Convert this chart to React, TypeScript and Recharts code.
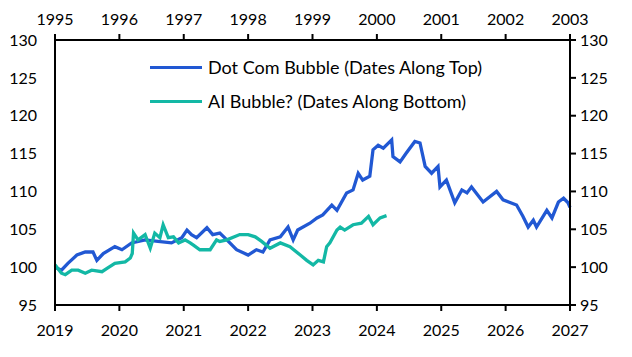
import { LineChart, Line, XAxis, YAxis, Legend } from 'recharts';

// Dot com bubble: dates along the top axis (1995-2003)
const dotComYears = [
  1995.0, 1995.1, 1995.2, 1995.34, 1995.47, 1995.59, 1995.65, 1995.75, 1995.93,
  1996.04, 1996.19, 1996.4, 1996.6, 1996.81, 1996.97, 1997.05, 1997.12, 1997.2,
  1997.36, 1997.45, 1997.56, 1997.67, 1997.82, 1998.0, 1998.13, 1998.23, 1998.34,
  1998.5, 1998.62, 1998.7, 1998.77, 1998.96, 1999.07, 1999.16, 1999.3, 1999.38,
  1999.53, 1999.63, 1999.71, 1999.78, 1999.89, 1999.94, 2000.02, 2000.1, 2000.23,
  2000.25, 2000.36, 2000.46, 2000.59, 2000.67, 2000.75, 2000.85, 2000.95, 2000.98,
  2001.08, 2001.21, 2001.32, 2001.4, 2001.47, 2001.65, 2001.86, 2001.96, 2002.17,
  2002.27, 2002.35, 2002.43, 2002.48, 2002.64, 2002.72, 2002.82, 2002.9, 2002.97, 2003.0,
];
const dotComValues = [
  100.0, 99.6, 100.5, 101.6, 102.0, 102.0, 100.9, 101.8, 102.7,
  102.3, 103.2, 103.6, 103.4, 103.2, 103.9, 104.9, 104.3, 103.9,
  105.2, 104.3, 104.5, 103.6, 102.3, 101.6, 102.3, 102.0, 103.6,
  104.0, 105.3, 103.6, 104.9, 105.8, 106.5, 106.9, 108.2, 107.5,
  109.8, 110.2, 112.4, 111.5, 112.0, 115.5, 116.1, 115.7, 116.8,
  114.6, 113.9, 115.1, 116.6, 116.4, 113.3, 112.4, 113.3, 110.6,
  111.5, 108.5, 110.2, 109.8, 110.6, 108.6, 110.0, 108.9, 108.2,
  106.7, 105.3, 106.2, 105.3, 107.5, 106.5, 108.6, 109.1, 108.5, 107.9,
];

// AI bubble?: dates along the bottom axis (2019-2027)
const aiYears = [
  2019.0, 2019.1, 2019.16, 2019.26, 2019.36, 2019.47, 2019.57, 2019.73, 2019.82,
  2019.93, 2020.09, 2020.17, 2020.2, 2020.22, 2020.29, 2020.4, 2020.48, 2020.55,
  2020.63, 2020.68, 2020.76, 2020.84, 2020.92, 2021.02, 2021.1, 2021.15, 2021.25,
  2021.41, 2021.51, 2021.56, 2021.67, 2021.87, 2022.0, 2022.11, 2022.21, 2022.34,
  2022.5, 2022.65, 2022.81, 2022.91, 2023.01, 2023.09, 2023.17, 2023.22, 2023.27,
  2023.38, 2023.43, 2023.5, 2023.63, 2023.76, 2023.87, 2023.94, 2024.05, 2024.15,
];
const aiValues = [
  100.3, 99.2, 99.0, 99.6, 99.6, 99.2, 99.6, 99.4, 99.9,
  100.5, 100.7, 101.2, 101.8, 104.5, 103.6, 104.3, 102.5, 104.5,
  103.9, 105.6, 103.9, 104.0, 103.2, 103.6, 103.2, 102.9, 102.3,
  102.3, 103.6, 103.4, 103.6, 104.3, 104.3, 104.0, 103.4, 102.5,
  103.2, 102.7, 101.6, 100.9, 100.3, 100.9, 100.7, 102.7, 103.2,
  104.9, 105.3, 104.9, 105.6, 105.8, 106.7, 105.6, 106.5, 106.8,
];

const topTicks = [1995, 1996, 1997, 1998, 1999, 2000, 2001, 2002, 2003];
const bottomTicks = [2019, 2020, 2021, 2022, 2023, 2024, 2025, 2026, 2027];
const valueTicks = [95, 100, 105, 110, 115, 120, 125, 130];

const dotComData = dotComYears.map((t, i) => ({ t, v: dotComValues[i] }));
const aiData = aiYears.map((t, i) => ({ t, v: aiValues[i] }));

const BLUE = '#2158d3';
const TEAL = '#13b8a5';
const FONT = 'Lato, "Open Sans", sans-serif';

const axisStyle = { stroke: '#000', strokeWidth: 2 };
const tickStyle = { fill: '#000', fontSize: 16, fontFamily: FONT };

const legendItems = [
  { name: 'Dot Com Bubble (Dates Along Top)', color: BLUE },
  { name: 'AI Bubble? (Dates Along Bottom)', color: TEAL },
];

function ChartLegend() {
  return (
    <div style={{ fontFamily: FONT, fontSize: 18, color: '#000' }}>
      {legendItems.map((item) => (
        <div key={item.name} style={{ display: 'flex', alignItems: 'center', height: 34 }}>
          <div style={{ width: 52, height: 3, background: item.color, marginRight: 6 }} />
          <span>{item.name}</span>
        </div>
      ))}
    </div>
  );
}

export default function App() {
  return (
    <div style={{ position: 'absolute', left: 0, top: 0, width: 632, height: 357, background: '#fff' }}>
      <LineChart width={632} height={357} margin={{ top: 0, right: 0, bottom: 0, left: 0 }}>
        <XAxis
          xAxisId="top"
          orientation="top"
          type="number"
          dataKey="t"
          domain={[1995, 2003]}
          ticks={topTicks}
          height={40}
          axisLine={axisStyle}
          tickLine={axisStyle}
          tickSize={6}
          tickMargin={9}
          tick={tickStyle}
        />
        <XAxis
          xAxisId="bottom"
          orientation="bottom"
          type="number"
          dataKey="t"
          domain={[2019, 2027]}
          ticks={bottomTicks}
          height={52}
          axisLine={axisStyle}
          tickLine={axisStyle}
          tickSize={6}
          tickMargin={14}
          tick={tickStyle}
        />
        <YAxis
          yAxisId="left"
          orientation="left"
          type="number"
          domain={[95, 130]}
          ticks={valueTicks}
          width={55}
          axisLine={axisStyle}
          tickLine={false}
          tickSize={0}
          tickMargin={18}
          tick={tickStyle}
        />
        <YAxis
          yAxisId="right"
          orientation="right"
          type="number"
          domain={[95, 130]}
          ticks={valueTicks}
          width={62}
          axisLine={axisStyle}
          tickLine={axisStyle}
          tickSize={6}
          tickMargin={4}
          tick={tickStyle}
        />
        <Legend
          layout="vertical"
          align="center"
          verticalAlign="middle"
          wrapperStyle={{ left: 150, top: 50, width: 380 }}
          content={() => <ChartLegend />}
        />
        <Line
          data={dotComData}
          xAxisId="top"
          yAxisId="left"
          dataKey="v"
          name="Dot Com Bubble (Dates Along Top)"
          stroke={BLUE}
          strokeWidth={3.3}
          dot={false}
          isAnimationActive={false}
        />
        <Line
          data={aiData}
          xAxisId="bottom"
          yAxisId="right"
          dataKey="v"
          name="AI Bubble? (Dates Along Bottom)"
          stroke={TEAL}
          strokeWidth={3.3}
          dot={false}
          isAnimationActive={false}
        />
      </LineChart>
    </div>
  );
}
